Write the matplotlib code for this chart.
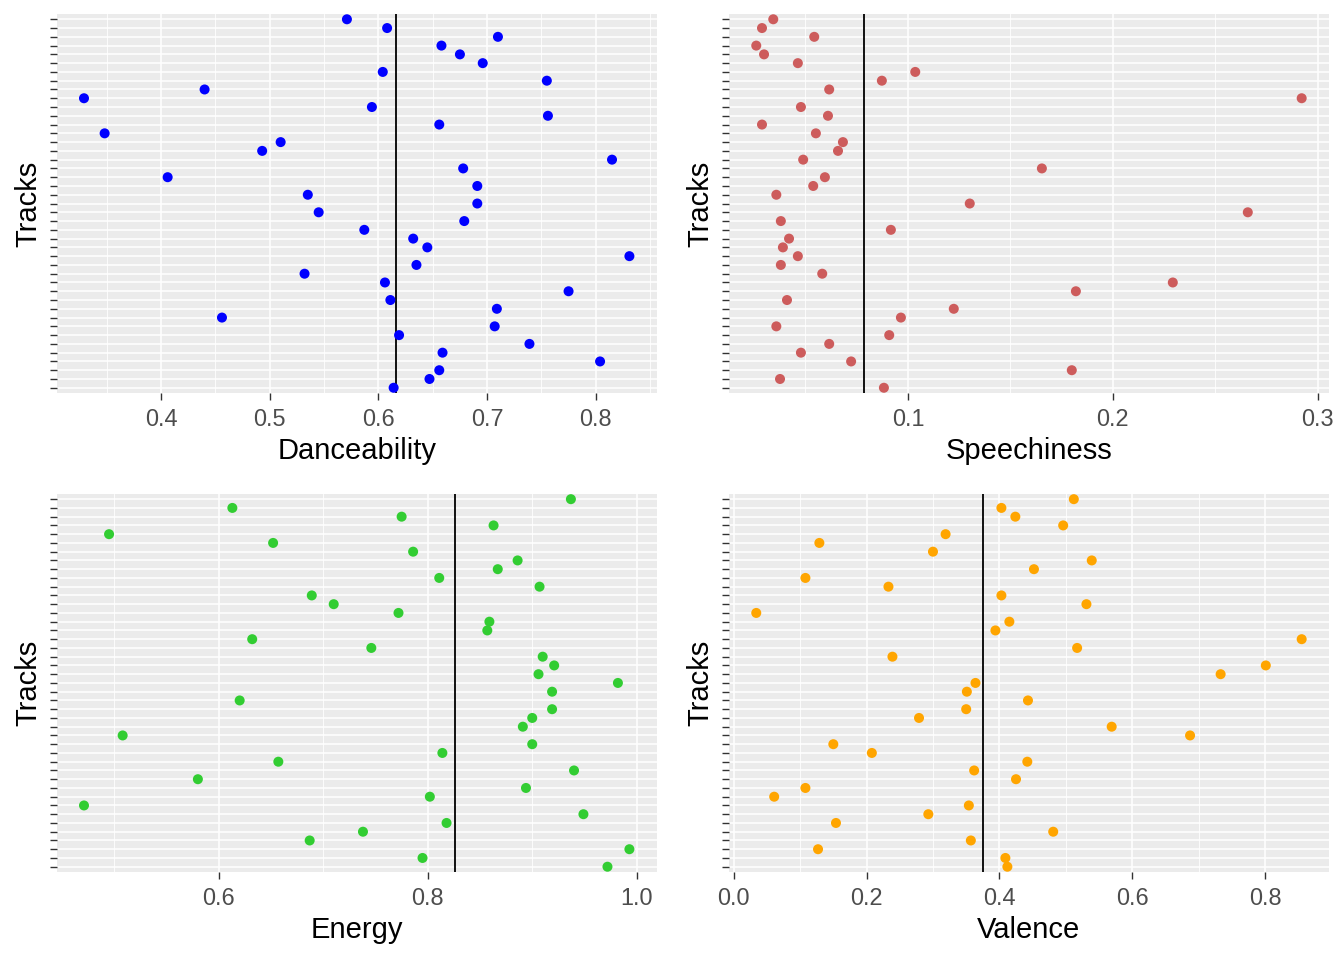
import numpy as np
import matplotlib
matplotlib.use("Agg")
import matplotlib.pyplot as plt
from matplotlib.ticker import MultipleLocator, FormatStrFormatter

plt.rcParams['font.family'] = ['Liberation Sans', 'DejaVu Sans']

# one value per track, listed from the top row of each panel to the bottom row
danceability = [0.571, 0.608, 0.710, 0.658, 0.675, 0.696, 0.604, 0.755, 0.440, 0.329,
                0.594, 0.756, 0.656, 0.348, 0.510, 0.493, 0.815, 0.678, 0.406, 0.691,
                0.535, 0.691, 0.545, 0.679, 0.587, 0.632, 0.645, 0.831, 0.635, 0.532,
                0.606, 0.775, 0.611, 0.709, 0.456, 0.707, 0.619, 0.739, 0.659, 0.804,
                0.656, 0.647, 0.614]
speechiness = [0.0343, 0.0288, 0.0543, 0.0260, 0.0298, 0.0463, 0.1036, 0.0873, 0.0616, 0.2922,
               0.0478, 0.0610, 0.0288, 0.0551, 0.0683, 0.0659, 0.0489, 0.1654, 0.0595, 0.0538,
               0.0358, 0.1302, 0.2659, 0.0380, 0.0917, 0.0420, 0.0390, 0.0463, 0.0380, 0.0582,
               0.2293, 0.1820, 0.0410, 0.1224, 0.0966, 0.0358, 0.0909, 0.0616, 0.0478, 0.0723,
               0.1800, 0.0376, 0.0883]
energy = [0.937, 0.613, 0.775, 0.863, 0.495, 0.652, 0.786, 0.886, 0.867, 0.811,
          0.907, 0.689, 0.710, 0.772, 0.859, 0.857, 0.632, 0.746, 0.910, 0.921,
          0.906, 0.982, 0.919, 0.620, 0.919, 0.900, 0.891, 0.508, 0.900, 0.814,
          0.657, 0.940, 0.580, 0.894, 0.802, 0.471, 0.949, 0.818, 0.738, 0.687,
          0.993, 0.795, 0.972]
valence = [0.512, 0.403, 0.424, 0.496, 0.319, 0.129, 0.300, 0.539, 0.452, 0.108,
           0.233, 0.403, 0.531, 0.034, 0.415, 0.394, 0.855, 0.517, 0.239, 0.801,
           0.733, 0.364, 0.351, 0.443, 0.350, 0.279, 0.569, 0.687, 0.150, 0.208,
           0.442, 0.362, 0.425, 0.108, 0.061, 0.354, 0.293, 0.154, 0.481, 0.357,
           0.127, 0.409, 0.412]

# reference lines as drawn on each panel
dance_ref = 0.616
speech_ref = 0.0785
energy_ref = 0.826
valence_ref = 0.376

panels = [
    (danceability, dance_ref, 'blue', 'Danceability', 0.1, [0.0422, 0.5906, 0.4464, 0.3948]),
    (speechiness, speech_ref, 'indianred', 'Speechiness', 0.1, [0.5424, 0.5906, 0.4464, 0.3948]),
    (energy, energy_ref, 'limegreen', 'Energy', 0.2, [0.0422, 0.0917, 0.4464, 0.3938]),
    (valence, valence_ref, 'orange', 'Valence', 0.2, [0.5424, 0.0917, 0.4464, 0.3938]),
]

fig = plt.figure(figsize=(13.44, 9.6), dpi=100)

for vals, ref, color, label, step, pos in panels:
    ax = fig.add_axes(pos)
    vals = np.array(vals)
    n = len(vals)
    y = np.arange(n, 0, -1)

    ax.set_facecolor('#EBEBEB')
    for s in ax.spines.values():
        s.set_visible(False)

    lo, hi = vals.min(), vals.max()
    pad = 0.05 * (hi - lo)
    ax.set_xlim(lo - pad, hi + pad)
    ax.set_ylim(0.4, n + 0.6)

    ax.xaxis.set_major_locator(MultipleLocator(step))
    ax.xaxis.set_minor_locator(MultipleLocator(step / 2))
    ax.xaxis.set_major_formatter(FormatStrFormatter('%.1f'))
    ax.set_yticks(y)
    ax.set_yticklabels([])

    ax.grid(which='major', axis='both', color='white', linewidth=1.1)
    ax.grid(which='minor', axis='x', color='white', linewidth=0.6)
    ax.set_axisbelow(True)

    ax.tick_params(axis='x', which='major', length=5, width=1.0, color='#333333',
                   labelsize=16.9, labelcolor='#4D4D4D', pad=6)
    ax.tick_params(axis='x', which='minor', length=0)
    ax.tick_params(axis='y', which='major', length=5, width=1.0, color='#333333')

    ax.axvline(ref, color='black', linewidth=1.3, zorder=2)
    ax.scatter(vals, y, s=52, color=color, edgecolors='none', zorder=3)

    ax.set_xlabel(label, fontsize=21, color='black', labelpad=4)
    ax.set_ylabel('Tracks', fontsize=21, color='black', labelpad=2)

fig.savefig('out.png', dpi=100)
